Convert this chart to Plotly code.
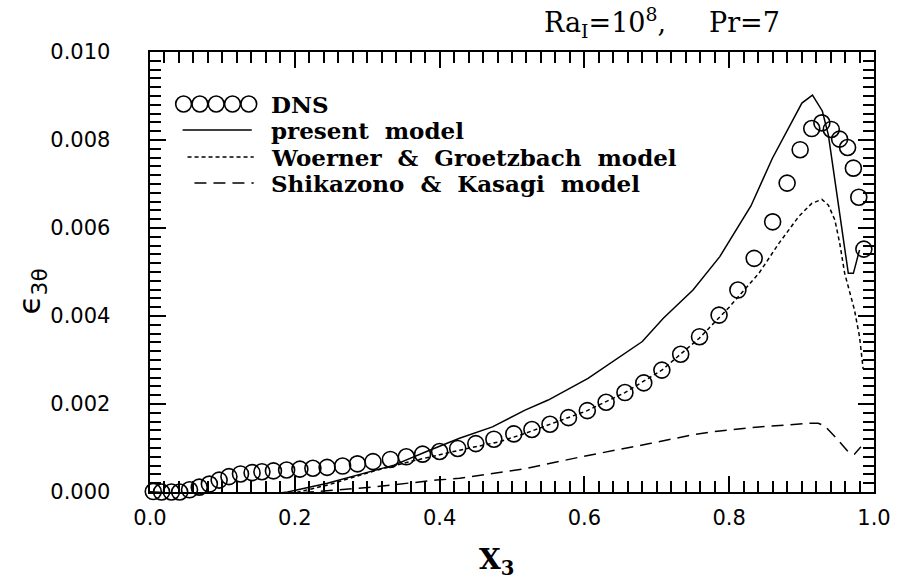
import plotly.graph_objects as go

# ---------------- data ----------------
dns_x = [0.0045, 0.016, 0.0296, 0.041, 0.0546, 0.068, 0.082, 0.0955, 0.109, 0.125,
         0.141, 0.1546, 0.1705, 0.1887, 0.207, 0.225, 0.2446, 0.266, 0.2865, 0.308,
         0.332, 0.354, 0.3765, 0.400, 0.425, 0.450, 0.475, 0.5025, 0.5275, 0.5525,
         0.578, 0.604, 0.63, 0.656, 0.682, 0.707, 0.733, 0.759, 0.786, 0.812,
         0.8345, 0.860, 0.880, 0.898, 0.914, 0.928, 0.941, 0.9525, 0.9635, 0.9715,
         0.979, 0.986]
dns_y = [0.00001, 0.0, 0.0, 0.0, 0.00005, 0.00011, 0.00018, 0.00027, 0.00035, 0.00041,
         0.00044, 0.00046, 0.00048, 0.00050, 0.00052, 0.00054, 0.00056, 0.00059, 0.00064, 0.00069,
         0.00074, 0.00080, 0.00086, 0.00092, 0.00099, 0.00110, 0.00120, 0.00132, 0.00142, 0.00154,
         0.00169, 0.00185, 0.00204, 0.00226, 0.00248, 0.00277, 0.00313, 0.00353, 0.00402, 0.00459,
         0.00531, 0.00614, 0.00702, 0.00778, 0.00826, 0.00839, 0.00824, 0.00802, 0.00783, 0.00736,
         0.00670, 0.00552]

present_x = [0.0, 0.05, 0.10, 0.15, 0.19, 0.245, 0.30, 0.337, 0.382, 0.4275, 0.473, 0.518,
             0.55, 0.605, 0.68, 0.709, 0.75, 0.787, 0.83, 0.8595, 0.9004, 0.915, 0.9286,
             0.937, 0.9645, 0.9715, 0.98]
present_y = [0.0, -0.00004, -0.00008, -0.00008, 0.0, 0.00020, 0.00045, 0.00061, 0.00092, 0.00122,
             0.00148, 0.00186, 0.00209, 0.00258, 0.00342, 0.00395, 0.00459, 0.00535, 0.0065,
             0.00758, 0.00884, 0.00902, 0.00866, 0.00811, 0.00497, 0.00497, 0.0055]

wg_x = [0.0, 0.05, 0.10, 0.15, 0.20, 0.2456, 0.314, 0.359, 0.4275, 0.482, 0.518, 0.552,
        0.604, 0.656, 0.707, 0.759, 0.80, 0.841, 0.8686, 0.896, 0.914, 0.928, 0.937,
        0.946, 0.9527, 0.9595, 0.973, 0.98, 0.985]
wg_y = [0.0, -0.00006, -0.0001, -0.00009, -0.00002, 0.00016, 0.0005, 0.00069, 0.00095, 0.00114,
        0.00133, 0.00154, 0.00185, 0.00226, 0.00277, 0.0035, 0.0042, 0.00497, 0.00565,
        0.00626, 0.00656, 0.00665, 0.00652, 0.00618, 0.00565, 0.00497, 0.00414, 0.00353, 0.0028]

sk_x = [0.0, 0.05, 0.10, 0.15, 0.20, 0.25, 0.305, 0.3956, 0.4275, 0.518, 0.5957, 0.69,
        0.75, 0.7776, 0.841, 0.9095, 0.923, 0.932, 0.9505, 0.964, 0.973, 0.982]
sk_y = [0.0, -0.00005, -0.00008, -0.00007, -0.00003, 0.00004, 0.00011, 0.00027, 0.00031,
        0.00053, 0.0008, 0.0011, 0.0013, 0.00137, 0.00148, 0.00156, 0.00156, 0.0015,
        0.00118, 0.00092, 0.00086, 0.00103]

x_ticks = [0.0, 0.2, 0.4, 0.6, 0.8, 1.0]
y_ticks = [0.000, 0.002, 0.004, 0.006, 0.008, 0.010]

legend_names = ["DNS", "present\u00a0\u00a0model", "Woerner\u00a0\u00a0&\u00a0\u00a0Groetzbach\u00a0\u00a0model",
                "Shikazono\u00a0\u00a0&\u00a0\u00a0Kasagi\u00a0\u00a0model"]

# ---------------- figure ----------------
W, H = 903, 583
L, R, T, B = 150, 20, 52, 91
PW, PH = W - L - R, H - T - B

def px2paper(px, py):
    return (px - L) / PW, (H - B - py) / PH

fig = go.Figure()
fig.add_trace(go.Scatter(x=present_x, y=present_y, mode="lines",
                         line=dict(color="black", width=1.5), showlegend=False))
fig.add_trace(go.Scatter(x=wg_x, y=wg_y, mode="lines",
                         line=dict(color="black", width=1.5, dash="4px,3px"), showlegend=False))
fig.add_trace(go.Scatter(x=sk_x, y=sk_y, mode="lines",
                         line=dict(color="black", width=1.5, dash="12px,7px"), showlegend=False))
fig.add_trace(go.Scatter(x=dns_x, y=dns_y, mode="markers", cliponaxis=False,
                         marker=dict(symbol="circle-open", size=16, color="black",
                                     line=dict(width=1.6, color="black")),
                         showlegend=False))

serif = "DejaVu Serif"
ann = []
shapes = []

rows_y = [104, 130, 157, 183]
text_x = 270
for i, name in enumerate(legend_names):
    xp, yp = px2paper(text_x, rows_y[i])
    ann.append(dict(x=xp, y=yp, xref="paper", yref="paper", text="<b>" + name + "</b>",
                    showarrow=False, xanchor="left", yanchor="middle",
                    font=dict(family=serif, size=23, color="black")))
for k in range(5):
    cx = 184 + 16.5 * k
    x0, y0 = px2paper(cx - 8, rows_y[0] + 8)
    x1, y1 = px2paper(cx + 8, rows_y[0] - 8)
    shapes.append(dict(type="circle", xref="paper", yref="paper", x0=x0, y0=y0, x1=x1, y1=y1,
                       line=dict(color="black", width=1.6)))
line_samples = [(183, 253, "solid", 1), (188, 255, "4px,3px", 2), (195, 255, "12px,7px", 3)]
for xa, xb, dash, r in line_samples:
    x0, y0 = px2paper(xa, rows_y[r])
    x1, _ = px2paper(xb, rows_y[r])
    shapes.append(dict(type="line", xref="paper", yref="paper", x0=x0, y0=y0, x1=x1, y1=y0,
                       line=dict(color="black", width=1.5, dash=dash)))

xp, yp = px2paper(790, 23)
ann.append(dict(x=xp, y=yp, xref="paper", yref="paper",
                text="Ra<sub>I</sub>=10<sup>8</sup>,\u00a0\u00a0\u00a0\u00a0\u00a0Pr=7",
                showarrow=False, xanchor="right", yanchor="middle",
                font=dict(family=serif, size=27, color="black")))
xp, yp = px2paper(501, 561)
ann.append(dict(x=xp, y=yp, xref="paper", yref="paper", text="<b>X<sub>3</sub></b>",
                showarrow=False, xanchor="center", yanchor="middle",
                font=dict(family=serif, size=28, color="black")))
xp, yp = px2paper(30, 291)
ann.append(dict(x=xp, y=yp, xref="paper", yref="paper", text="\u03f5<sub>3\u03b8</sub>",
                showarrow=False, xanchor="center", yanchor="middle", textangle=-90,
                font=dict(family="DejaVu Sans", size=31, color="black")))

tickfont = dict(family="DejaVu Sans", size=21, color="black")

fig.update_layout(
    width=W, height=H,
    margin=dict(l=L, r=R, t=T, b=B),
    paper_bgcolor="white", plot_bgcolor="white",
    showlegend=False,
    annotations=ann, shapes=shapes,
)
fig.update_xaxes(range=[0, 1], tickmode="array", tickvals=x_ticks,
                 ticktext=[f"{v:.1f}" for v in x_ticks],
                 showline=True, linewidth=2, linecolor="black", mirror="ticks",
                 ticks="inside", ticklen=16, tickwidth=2, tickcolor="black",
                 showgrid=False, zeroline=False, tickfont=tickfont, ticklabelstandoff=6,
                 layer="above traces",
                 minor=dict(dtick=0.02, tick0=0, ticks="inside", ticklen=11,
                            tickwidth=1.5, tickcolor="black", showgrid=False))
fig.update_yaxes(range=[0, 0.010], tickmode="array", tickvals=y_ticks,
                 ticktext=[f"{v:.3f}" + "\u00a0" * 5 for v in y_ticks],
                 showline=True, linewidth=2, linecolor="black", mirror="ticks",
                 ticks="inside", ticklen=16, tickwidth=2, tickcolor="black",
                 showgrid=False, zeroline=False, tickfont=tickfont,
                 layer="above traces",
                 minor=dict(dtick=0.0002, tick0=0, ticks="inside", ticklen=11,
                            tickwidth=1.5, tickcolor="black", showgrid=False))

fig.write_html("out.html")
